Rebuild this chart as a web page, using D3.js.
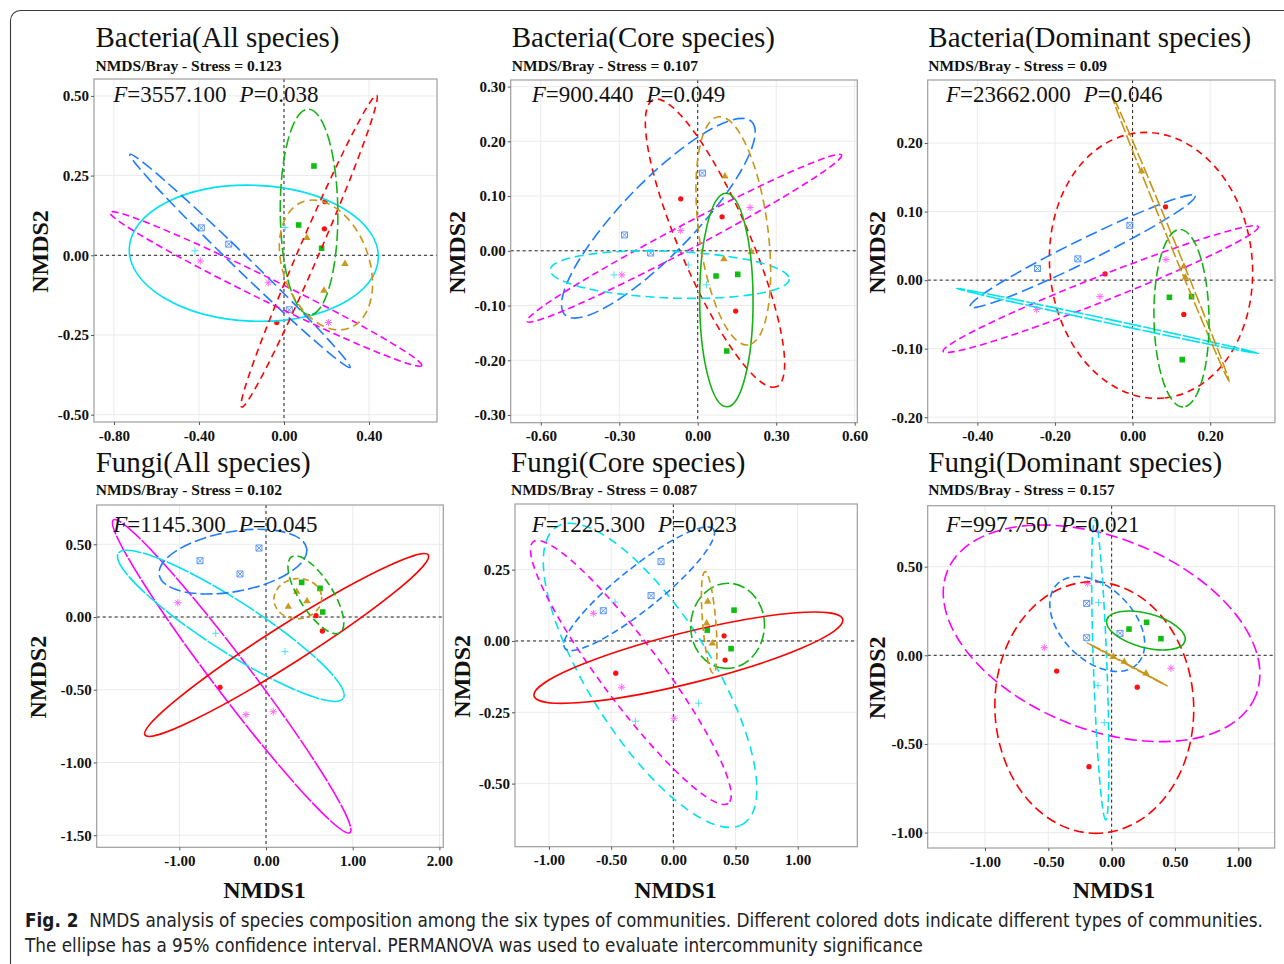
<!DOCTYPE html>
<html>
<head>
<meta charset="utf-8">
<script src="https://cdn.jsdelivr.net/npm/d3@7"></script>
<style>
  body { margin: 0; background: #fff; }
  svg { display: block; }
</style>
</head>
<body>
<svg id="fig" width="1284" height="964"></svg>
<script>
// ---------------------------------------------------------------
// NMDS ordination of six community types, six panels.
// Community keys: c1 red circle, c2 gold triangle, c3 green square,
// c4 cyan plus, c5 blue boxed cross, c6 magenta asterisk.
// ---------------------------------------------------------------

const titles = [
  "Bacteria(All species)", "Bacteria(Core species)", "Bacteria(Dominant species)",
  "Fungi(All species)", "Fungi(Core species)", "Fungi(Dominant species)"
];
const stressValues = ["0.123", "0.107", "0.09", "0.102", "0.087", "0.157"];
const permanovaF = ["3557.100", "900.440", "23662.000", "1145.300", "1225.300", "997.750"];
const permanovaP = ["0.038", "0.049", "0.046", "0.045", "0.023", "0.021"];

const xTicks = [
  [-0.8, -0.4, 0, 0.4],
  [-0.6, -0.3, 0, 0.3, 0.6],
  [-0.4, -0.2, 0, 0.2],
  [-1, 0, 1, 2],
  [-1, -0.5, 0, 0.5, 1],
  [-1, -0.5, 0, 0.5, 1]
];
const yTicks = [
  [0.5, 0.25, 0, -0.25, -0.5],
  [0.3, 0.2, 0.1, 0, -0.1, -0.2, -0.3],
  [0.2, 0.1, 0, -0.1, -0.2],
  [0.5, 0, -0.5, -1, -1.5],
  [0.25, 0, -0.25, -0.5],
  [0.5, 0, -0.5, -1]
];
const xDomains = [[-0.894, 0.72], [-0.715, 0.61], [-0.528, 0.367], [-1.953, 2.045], [-1.273, 1.479], [-1.452, 1.287]];
const yDomains = [[-0.523, 0.553], [-0.314, 0.312], [-0.208, 0.292], [-1.583, 0.77], [-0.721, 0.48], [-1.087, 0.844]];

// sample scores: [community, NMDS1, NMDS2]
const ptsBacAll = [
  ["c3", 0.141, 0.280], ["c3", 0.069, 0.095], ["c3", 0.177, 0.022],
  ["c1", 0.193, 0.168], ["c1", 0.190, 0.083], ["c1", -0.034, -0.211],
  ["c2", 0.108, 0.055], ["c2", 0.287, -0.027], ["c2", 0.188, -0.111],
  ["c5", -0.389, 0.086], ["c5", -0.260, 0.035], ["c5", 0.025, -0.171],
  ["c4", -0.419, 0.014], ["c4", 0.005, 0.087],
  ["c6", -0.394, -0.018], ["c6", -0.074, -0.086], ["c6", 0.209, -0.211]
];
const ptsBacCore = [
  ["c5", 0.018, 0.142], ["c5", -0.280, 0.029], ["c5", -0.180, -0.004],
  ["c1", -0.065, 0.095], ["c1", 0.093, 0.062], ["c1", 0.145, -0.110],
  ["c6", -0.065, 0.037], ["c6", 0.200, 0.079], ["c6", -0.290, -0.044],
  ["c4", -0.320, -0.044], ["c4", -0.036, -0.026], ["c4", 0.034, -0.062],
  ["c3", 0.070, -0.046], ["c3", 0.153, -0.043], ["c3", 0.111, -0.183],
  ["c2", 0.104, 0.136], ["c2", 0.100, -0.015], ["c2", 0.205, -0.002]
];
const ptsBacDom = [
  ["c5", -0.245, 0.017], ["c5", -0.141, 0.031], ["c5", -0.007, 0.080],
  ["c1", 0.085, 0.107], ["c1", -0.071, 0.009], ["c1", 0.132, -0.050],
  ["c6", 0.086, 0.030], ["c6", -0.084, -0.024], ["c6", -0.247, -0.043],
  ["c3", 0.095, -0.025], ["c3", 0.152, -0.024], ["c3", 0.128, -0.116],
  ["c2", 0.023, 0.159], ["c2", 0.132, 0.020], ["c2", 0.136, 0.004]
];
const ptsFunAll = [
  ["c5", -0.761, 0.387], ["c5", -0.300, 0.296], ["c5", -0.081, 0.474],
  ["c6", -1.018, 0.098], ["c6", -0.231, -0.671], ["c6", 0.084, -0.651],
  ["c4", -0.580, -0.112], ["c4", 0.219, -0.238],
  ["c1", -0.531, -0.483], ["c1", 0.577, 0.009], ["c1", 0.650, -0.096],
  ["c3", 0.411, 0.238], ["c3", 0.623, 0.197], ["c3", 0.654, 0.034],
  ["c2", 0.257, 0.071], ["c2", 0.473, 0.110], ["c2", 0.354, 0.174]
];
const ptsFunCore = [
  ["c5", -0.099, 0.278], ["c5", -0.179, 0.159], ["c5", -0.563, 0.106],
  ["c6", -0.643, 0.097], ["c6", -0.415, -0.162], ["c6", 0.006, -0.271],
  ["c4", -0.469, 0.136], ["c4", -0.305, -0.281], ["c4", 0.204, -0.218],
  ["c1", -0.463, -0.113], ["c1", 0.408, 0.018], ["c1", 0.416, -0.067],
  ["c3", 0.488, 0.108], ["c3", 0.273, 0.038], ["c3", 0.464, -0.027],
  ["c2", 0.276, 0.138], ["c2", 0.268, 0.062], ["c2", 0.314, -0.008]
];
const ptsFunDom = [
  ["c5", -0.197, 0.293], ["c5", -0.197, 0.099], ["c5", 0.066, 0.124],
  ["c3", 0.137, 0.148], ["c3", 0.276, 0.186], ["c3", 0.389, 0.094],
  ["c1", -0.434, -0.089], ["c1", 0.202, -0.180], ["c1", -0.179, -0.628],
  ["c6", -0.532, 0.043], ["c6", 0.468, -0.073], ["c6", -0.189, 0.406],
  ["c4", -0.103, 0.297], ["c4", -0.108, -0.171], ["c4", -0.058, -0.380],
  ["c2", 0.013, -0.008], ["c2", 0.099, -0.036], ["c2", 0.271, -0.102]
];

// 95% ellipses: [community, end1 NMDS1, end1 NMDS2, end2 NMDS1, end2 NMDS2, minor/major]
const ellBacAll = [
  ["c4", -0.728, 0.022, 0.444, -0.009, 0.545],
  ["c5", -0.725, 0.317, 0.311, -0.352, 0.05],
  ["c6", -0.819, 0.135, 0.648, -0.346, 0.065],
  ["c1", -0.199, -0.476, 0.436, 0.502, 0.06],
  ["c3", 0.114, 0.458, 0.122, -0.187, 0.28],
  ["c2", 0.089, 0.168, 0.306, -0.229, 0.64]
];
const ellBacCore = [
  ["c1", -0.170, 0.276, 0.302, -0.248, 0.225],
  ["c5", -0.507, -0.117, 0.206, 0.236, 0.27],
  ["c6", -0.653, -0.129, 0.550, 0.175, 0.07],
  ["c4", -0.564, -0.035, 0.350, -0.052, 0.195],
  ["c3", 0.108, 0.105, 0.111, -0.285, 0.25],
  ["c2", 0.079, 0.245, 0.193, -0.172, 0.30]
];
const ellBacDom = [
  ["c1", 0.014, 0.215, 0.081, -0.172, 0.76],
  ["c5", -0.419, -0.039, 0.161, 0.123, 0.09],
  ["c6", -0.488, -0.104, 0.324, 0.078, 0.074],
  ["c4", -0.454, -0.012, 0.324, -0.107, 0.012],
  ["c2", -0.054, 0.271, 0.249, -0.148, 0.016],
  ["c3", 0.122, 0.074, 0.130, -0.185, 0.31]
];
const ellFunAll = [
  ["c6", -1.761, 0.667, 0.969, -1.482, 0.095],
  ["c4", -1.704, 0.438, 0.892, -0.559, 0.19],
  ["c1", -1.396, -0.811, 1.872, 0.426, 0.113],
  ["c5", -1.231, 0.289, 0.469, 0.472, 0.40],
  ["c3", 0.296, 0.414, 0.854, -0.108, 0.37],
  ["c2", 0.092, 0.112, 0.642, 0.140, 0.84]
];
const ellFunCore = [
  ["c4", -0.937, 0.400, 0.563, -0.641, 0.35],
  ["c6", -1.125, 0.348, 0.442, -0.569, 0.184],
  ["c5", -0.871, -0.026, 0.322, 0.392, 0.22],
  ["c1", -1.120, -0.193, 1.362, 0.076, 0.16],
  ["c3", 0.456, 0.202, 0.416, -0.096, 0.866],
  ["c2", 0.255, 0.243, 0.322, -0.113, 0.13]
];
const ellFunDom = [
  ["c6", -1.297, 0.475, 1.138, -0.227, 0.575],
  ["c1", -0.171, 0.415, -0.103, -1.004, 0.79],
  ["c5", -0.429, 0.402, 0.202, -0.049, 0.64],
  ["c4", -0.132, 0.763, -0.047, -0.929, 0.045],
  ["c3", -0.039, 0.199, 0.579, 0.081, 0.42],
  ["c2", -0.193, 0.071, 0.439, -0.173, 0.006]
];

const panelPoints = [ptsBacAll, ptsBacCore, ptsBacDom, ptsFunAll, ptsFunCore, ptsFunDom];
const panelEllipses = [ellBacAll, ellBacCore, ellBacDom, ellFunAll, ellFunCore, ellFunDom];

// ---------------- styling & layout ----------------
const lineColor = { c1: "#FF0000", c2: "#C99516", c3: "#14B414", c4: "#00E2F2", c5: "#1E7CFF", c6: "#FF00FF" };
const pointColor = { c1: "#FF1010", c2: "#C99A22", c3: "#10BE10", c4: "#50DCF8", c5: "#5C96FF", c6: "#FF6AF6" };
const shapeOf = { c1: "circle", c2: "triangle", c3: "square", c4: "plus", c5: "boxcross", c6: "asterisk" };

// dash pattern of each ellipse outline, per panel (null = solid)
const dashStyles = [
  { c1: "7,5", c2: "8,5", c3: "12,4", c4: null, c5: "12,5", c6: "7,4" },
  { c1: "7,5", c2: "8,5", c3: null, c4: "9,5", c5: "12,5", c6: "7,4" },
  { c1: "7,5", c2: "12,3", c3: "10,4", c4: "18,2", c5: "12,5", c6: "7,4" },
  { c1: null, c2: "6,4", c3: "8,4", c4: "24,1.5", c5: "12,4", c6: "24,1.5" },
  { c1: null, c2: "7,4", c3: "12,4", c4: "9,6", c5: "7,4", c6: "7,5" },
  { c1: "10,5", c2: "16,2", c3: null, c4: "8,4", c5: "7,4", c6: "12,5" }
];

// plot boxes [left, top, right, bottom]
const boxes = [
  [94, 79, 437, 422], [510.7, 80, 857.3, 422.7], [927.7, 80, 1275, 422.7],
  [96.7, 505, 443.3, 847.3], [515, 504, 857.3, 846.7], [927.7, 505.7, 1274.7, 848]
];
const titleX = [95.5, 511.7, 928.3, 95.7, 511, 928.3];
const rowTitleY = [47, 472];
const rowSubY = [71, 495];
const rowStatY = [101.5, 532];
const statX = [113.3, 531.7, 946, 113.3, 531.7, 946];
const yLabelX = [40, 456.7, 876.7, 38.3, 461.7, 876.7];
const xLabelX = [null, null, null, 264.5, 675.5, 1114];

const serif = "'Liberation Serif','Times New Roman',Times,serif";
const svg = d3.select("#fig");

// outer frame with rounded top-left corner
svg.append("path")
  .attr("d", "M10.5,964 V20.5 A10,10 0 0 1 20.5,10.5 H1284")
  .attr("fill", "none").attr("stroke", "#3a3a3a").attr("stroke-width", 1.1);

function markerPath(kind) {
  switch (kind) {
    case "circle": return d3.symbol().type(d3.symbolCircle).size(22)();
    case "triangle": return d3.symbol().type(d3.symbolTriangle).size(24)();
    case "square": return "M-2.8,-2.8H2.8V2.8H-2.8Z";
    case "plus": return "M-3.6,0H3.6M0,-3.6V3.6";
    case "boxcross": return "M-3,-3H3V3H-3ZM-3,-3L3,3M3,-3L-3,3";
    case "asterisk": return "M-3.6,0H3.6M0,-3.6V3.6M-2.6,-2.6L2.6,2.6M2.6,-2.6L-2.6,2.6";
  }
}
const filledShapes = new Set(["circle", "triangle", "square"]);

// tick labels use a plain hyphen for negatives
const fmt = d3.formatLocale({ decimal: ".", thousands: ",", grouping: [3], currency: ["", ""], minus: "-" }).format(".2f");

titles.forEach((title, i) => {
  const [L, T, R, B] = boxes[i];
  const row = i < 3 ? 0 : 1;
  const x = d3.scaleLinear().domain(xDomains[i]).range([L, R]);
  const y = d3.scaleLinear().domain(yDomains[i]).range([B, T]);
  const g = svg.append("g");

  // panel background and major grid
  g.append("rect").attr("x", L).attr("y", T).attr("width", R - L).attr("height", B - T).attr("fill", "#fff");
  g.append("g").selectAll("line").data(xTicks[i]).join("line")
    .attr("x1", d => x(d)).attr("x2", d => x(d)).attr("y1", T).attr("y2", B)
    .attr("stroke", "#EBEBEB").attr("stroke-width", 1);
  g.append("g").selectAll("line").data(yTicks[i]).join("line")
    .attr("y1", d => y(d)).attr("y2", d => y(d)).attr("x1", L).attr("x2", R)
    .attr("stroke", "#EBEBEB").attr("stroke-width", 1);

  const clipId = "clip" + i;
  g.append("clipPath").attr("id", clipId)
    .append("rect").attr("x", L).attr("y", T).attr("width", R - L).attr("height", B - T);
  const plot = g.append("g").attr("clip-path", `url(#${clipId})`);

  // zero reference lines
  plot.append("line").attr("x1", x(0)).attr("x2", x(0)).attr("y1", T).attr("y2", B)
    .attr("stroke", "#222").attr("stroke-width", 1).attr("stroke-dasharray", "3,3");
  plot.append("line").attr("y1", y(0)).attr("y2", y(0)).attr("x1", L).attr("x2", R)
    .attr("stroke", "#222").attr("stroke-width", 1).attr("stroke-dasharray", "3,3");

  // sample points
  plot.append("g").selectAll("path").data(panelPoints[i]).join("path")
    .attr("d", d => markerPath(shapeOf[d[0]]))
    .attr("transform", d => `translate(${x(d[1])},${y(d[2])})`)
    .attr("fill", d => filledShapes.has(shapeOf[d[0]]) ? pointColor[d[0]] : "none")
    .attr("stroke", d => filledShapes.has(shapeOf[d[0]]) ? "none" : pointColor[d[0]])
    .attr("stroke-width", 1);

  // confidence ellipses
  plot.append("g").selectAll("ellipse").data(panelEllipses[i]).join("ellipse")
    .each(function (d) {
      const x1 = x(d[1]), y1 = y(d[2]), x2 = x(d[3]), y2 = y(d[4]);
      const cx = (x1 + x2) / 2, cy = (y1 + y2) / 2;
      const a = Math.hypot(x2 - x1, y2 - y1) / 2;
      const ang = Math.atan2(y2 - y1, x2 - x1) * 180 / Math.PI;
      d3.select(this)
        .attr("cx", 0).attr("cy", 0).attr("rx", a).attr("ry", a * d[5])
        .attr("transform", `translate(${cx},${cy}) rotate(${ang})`);
    })
    .attr("fill", "none")
    .attr("stroke", d => lineColor[d[0]])
    .attr("stroke-width", 1.6)
    .attr("stroke-dasharray", d => dashStyles[i][d[0]]);

  // panel border
  g.append("rect").attr("x", L).attr("y", T).attr("width", R - L).attr("height", B - T)
    .attr("fill", "none").attr("stroke", "#9E9E9E").attr("stroke-width", 1.2);

  // axes
  const xAxis = g.append("g").attr("transform", `translate(0,${B})`)
    .call(d3.axisBottom(x).tickValues(xTicks[i]).tickFormat(fmt).tickSize(3).tickPadding(5));
  const yAxis = g.append("g").attr("transform", `translate(${L},0)`)
    .call(d3.axisLeft(y).tickValues(yTicks[i]).tickFormat(fmt).tickSize(3).tickPadding(2));
  [xAxis, yAxis].forEach(ax => {
    ax.select(".domain").remove();
    ax.selectAll(".tick line").attr("stroke", "#555");
    ax.selectAll(".tick text").attr("fill", "#111")
      .style("font-family", serif).style("font-size", "15px").style("font-weight", "bold");
  });

  // titles
  g.append("text").attr("x", titleX[i]).attr("y", rowTitleY[row])
    .style("font-family", serif).style("font-size", "29px").attr("fill", "#111")
    .text(title);
  g.append("text").attr("x", titleX[i]).attr("y", rowSubY[row])
    .style("font-family", serif).style("font-size", "15.5px").style("font-weight", "bold").attr("fill", "#111")
    .text(`NMDS/Bray - Stress = ${stressValues[i]}`);

  // PERMANOVA statistics
  const st = g.append("text").attr("x", statX[i]).attr("y", rowStatY[row])
    .style("font-family", serif).style("font-size", "23px").attr("fill", "#111");
  st.append("tspan").style("font-style", "italic").text("F");
  st.append("tspan").text("=" + permanovaF[i]);
  st.append("tspan").attr("dx", 13).style("font-style", "italic").text("P");
  st.append("tspan").text("=" + permanovaP[i]);

  // axis titles
  g.append("text")
    .attr("transform", `translate(${yLabelX[i]},${(T + B) / 2 + 1}) rotate(-90)`)
    .attr("text-anchor", "middle").attr("dominant-baseline", "central")
    .style("font-family", serif).style("font-size", "24px").style("font-weight", "bold").attr("fill", "#111")
    .text("NMDS2");
  if (xLabelX[i] !== null) {
    g.append("text").attr("x", xLabelX[i]).attr("y", 898).attr("text-anchor", "middle")
      .style("font-family", serif).style("font-size", "24px").style("font-weight", "bold").attr("fill", "#111")
      .text("NMDS1");
  }
});

// figure caption
const capFont = "'Liberation Sans Narrow','DejaVu Sans Condensed','Open Sans',sans-serif";
const cap1 = svg.append("text").attr("x", 25).attr("y", 927)
  .attr("textLength", 1238).attr("lengthAdjust", "spacingAndGlyphs")
  .style("font-family", capFont).style("font-size", "19px").attr("fill", "#222");
cap1.append("tspan").style("font-weight", "bold").attr("fill", "#1a1a1a").text("Fig. 2");
cap1.append("tspan").text("\u00a0 NMDS analysis of species composition among the six types of communities. Different colored dots indicate different types of communities.");
svg.append("text").attr("x", 25).attr("y", 952)
  .attr("textLength", 898).attr("lengthAdjust", "spacingAndGlyphs")
  .style("font-family", capFont).style("font-size", "19px").attr("fill", "#222")
  .text("The ellipse has a 95% confidence interval. PERMANOVA was used to evaluate intercommunity significance");
</script>
</body>
</html>
